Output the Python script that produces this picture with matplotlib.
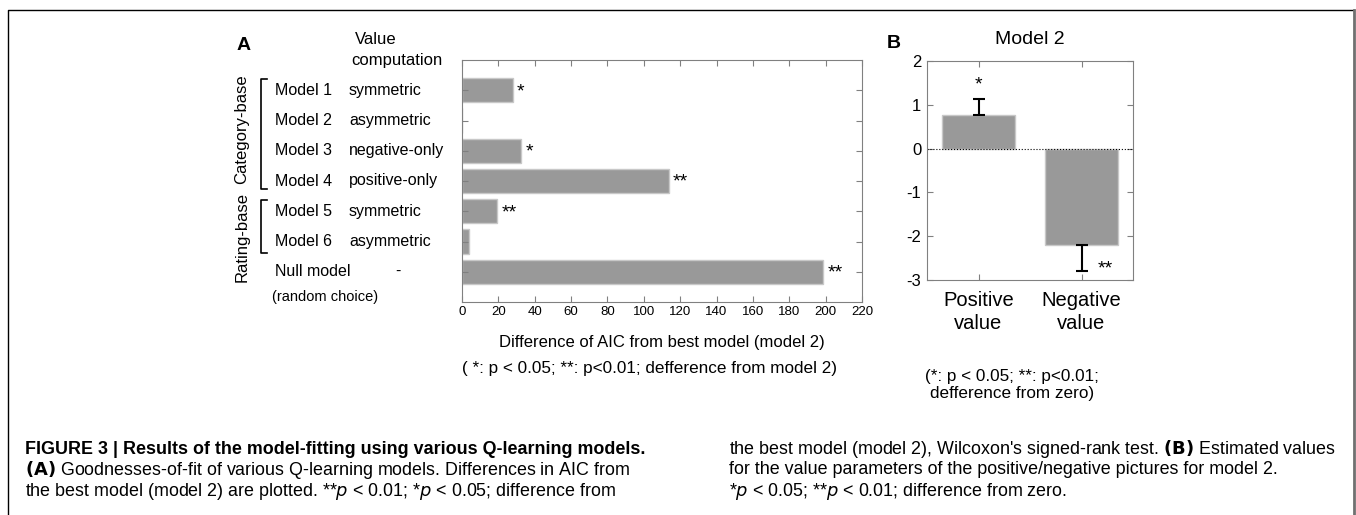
import matplotlib.pyplot as plt
from matplotlib.lines import Line2D
from matplotlib.transforms import blended_transform_factory

# panel A: difference of AIC from the best model
models = ['Model 1', 'Model 2', 'Model 3', 'Model 4', 'Model 5', 'Model 6', 'Null model']
computation = ['symmetric', 'asymmetric', 'negative-only', 'positive-only',
               'symmetric', 'asymmetric', '-']
aic_diff = [28.0, 0.0, 32.5, 113.7, 19.4, 3.7, 198.7]
aic_sig = ['*', '', '*', '**', '**', '', '**']
aic_ticks = [0, 20, 40, 60, 80, 100, 120, 140, 160, 180, 200, 220]

# panel B: estimated value parameters for model 2
value_labels = ['Positive\nvalue', 'Negative\nvalue']
value_means = [0.76, -2.2]
value_err_low = [0.0, 0.59]
value_err_high = [0.37, 0.0]
value_sig = ['*', '**']

W, H = 1356, 515
plt.rcParams['font.family'] = ['Liberation Sans', 'DejaVu Sans']
plt.rcParams['axes.unicode_minus'] = False
plt.rcParams['mathtext.fontset'] = 'custom'
plt.rcParams['mathtext.rm'] = 'Liberation Sans Narrow'
plt.rcParams['mathtext.it'] = 'Liberation Sans Narrow:italic'
plt.rcParams['mathtext.bf'] = 'Liberation Sans Narrow:bold'

fig = plt.figure(figsize=(W / 100, H / 100), dpi=100)


def ftext(x, y, s, **kw):
    # place text using pixel coordinates (from top-left)
    return fig.text(x / W, 1 - y / H, s, **kw)


def fline(xs, ys, **kw):
    fig.add_artist(Line2D([x / W for x in xs], [1 - y / H for y in ys],
                          transform=fig.transFigure, **kw))


bar_color = '#999999'
edge_color = '#c8c8c8'
spine_color = '#808080'

# ---------------- panel A ----------------
axA = fig.add_axes([462 / W, 1 - 302 / H, 400 / W, 242 / H])
ypos = list(range(1, len(models) + 1))
axA.barh(ypos, aic_diff, height=0.8, color=bar_color, edgecolor=edge_color, linewidth=1)
for y, v, s in zip(ypos, aic_diff, aic_sig):
    if s:
        axA.annotate(s, (v, y), xytext=(3, -1), textcoords='offset points',
                     ha='left', va='center', fontsize=14)
axA.set_xlim(0, 220)
axA.set_ylim(8, 0)
axA.set_xticks(aic_ticks)
axA.set_yticks(ypos)
axA.set_yticklabels([])
axA.tick_params(axis='both', direction='in', top=True, right=True, length=4,
                color=spine_color, labelsize=9.5, pad=3)
for sp in axA.spines.values():
    sp.set_color(spine_color)
axA.set_xlabel('Difference of AIC from best model (model 2)', fontsize=12, labelpad=12)

# row labels, aligned to the bars
tr = blended_transform_factory(fig.transFigure, axA.transData)
for y, m, c in zip(ypos, models, computation):
    axA.text(275 / W, y, m, transform=tr, ha='left', va='center', fontsize=11.5)
    cx = 395 / W if c == '-' else 349 / W
    axA.text(cx, y, c, transform=tr, ha='left', va='center', fontsize=11.5)
axA.text(272 / W, 7.85, '(random choice)', transform=tr, ha='left', va='center', fontsize=10.5)

ftext(237, 45, 'A', fontsize=14, fontweight='bold', va='center')
ftext(355, 40, 'Value', fontsize=12, va='center')
ftext(351, 60, 'computation', fontsize=12, va='center')

# group brackets
fline([267, 261, 261, 267], [79, 79, 189, 189], color='black', lw=1.2)
fline([267, 261, 261, 267], [200, 200, 253, 253], color='black', lw=1.2)
ftext(242, 129, 'Category-base', rotation=90, ha='center', va='center', fontsize=12)
ftext(242, 237, 'Rating-base', rotation=90, ha='center', va='center', fontsize=12)

ftext(650, 368, '( *: p < 0.05; **: p<0.01; defference from model 2)',
      ha='center', va='center', fontsize=12.3)

# ---------------- panel B ----------------
axB = fig.add_axes([927 / W, 1 - 280 / H, 206 / W, 219 / H])
xpos = [1, 2]
axB.bar(xpos, value_means, width=0.71, color=bar_color, edgecolor=edge_color, linewidth=1)
axB.errorbar(xpos, value_means, yerr=[value_err_low, value_err_high], fmt='none',
             ecolor='black', elinewidth=1.5, capsize=4, capthick=1.5)
axB.axhline(0, color='black', lw=0.8, ls=':')
axB.annotate(value_sig[0], (xpos[0], value_means[0] + value_err_high[0]),
             xytext=(0, 10), textcoords='offset points', ha='center', va='center', fontsize=14)
axB.annotate(value_sig[1], (xpos[1], value_means[1] - value_err_low[1]),
             xytext=(17, 1), textcoords='offset points', ha='center', va='center', fontsize=14)
axB.set_xlim(0.5, 2.5)
axB.set_ylim(-3, 2)
axB.set_xticks(xpos)
axB.set_xticklabels(value_labels, fontsize=14.5, linespacing=1.25)
axB.set_yticks([-3, -2, -1, 0, 1, 2])
axB.tick_params(axis='both', direction='in', top=True, right=True, length=4,
                color=spine_color, pad=4)
axB.tick_params(axis='x', pad=8)
axB.tick_params(axis='y', labelsize=12)
for sp in axB.spines.values():
    sp.set_color(spine_color)
axB.set_title('Model 2', fontsize=14, pad=12)
ftext(887, 43, 'B', fontsize=14, fontweight='bold', va='center')
ftext(1012, 385, '(*: p < 0.05; **: p<0.01;\ndefference from zero)',
      ha='center', va='center', fontsize=12.3, linespacing=1.2)

# ---------------- caption ----------------
cap = dict(fontsize=12.9, family=['Liberation Sans Narrow', 'Liberation Sans'], va='center')
ftext(25, 449, 'FIGURE 3 | Results of the model-fitting using various Q-learning models.',
      fontweight='bold', **cap)
ftext(25, 470, r'$\mathbf{(A)}$ Goodnesses-of-fit of various Q-learning models. Differences in AIC from', **cap)
ftext(25, 492, r'the best model (model 2) are plotted. **$p$ < 0.01; *$p$ < 0.05; difference from', **cap)
ftext(729, 449, r"the best model (model 2), Wilcoxon's signed-rank test. $\mathbf{(B)}$ Estimated values", **cap)
ftext(729, 470, 'for the value parameters of the positive/negative pictures for model 2.', **cap)
ftext(729, 492, r'*$p$ < 0.05; **$p$ < 0.01; difference from zero.', **cap)

# outer frame (open at the bottom)
fline([8, 8, 1354], [515, 10, 10], color='black', lw=1)
fline([1354, 1354], [10, 515], color='#707070', lw=2)

fig.savefig('out.png', dpi=100)
